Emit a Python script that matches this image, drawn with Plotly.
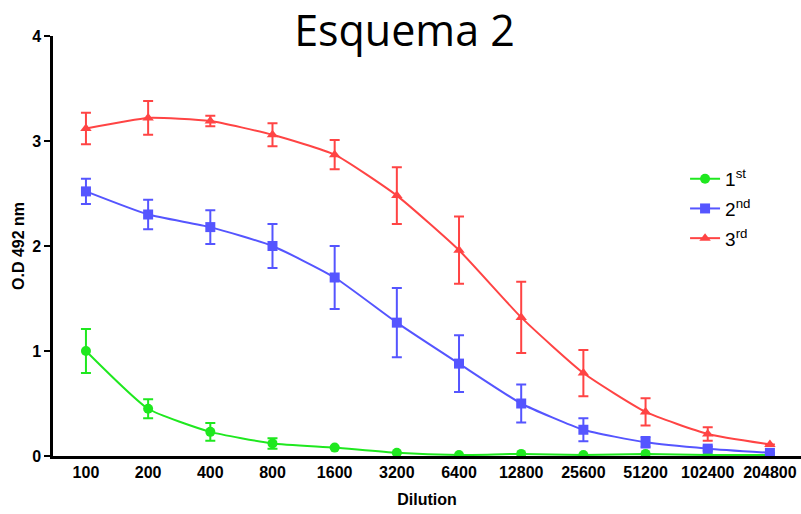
import plotly.graph_objects as go

dilutions = ["100", "200", "400", "800", "1600", "3200", "6400", "12800", "25600", "51200", "102400", "204800"]

first_vals = [1.00, 0.45, 0.23, 0.12, 0.08, 0.03, 0.01, 0.02, 0.01, 0.02, 0.01, 0.01]
first_err = [0.21, 0.09, 0.085, 0.05, 0.0, 0.0, 0.0, 0.0, 0.0, 0.0, 0.0, 0.0]

second_vals = [2.52, 2.30, 2.18, 2.00, 1.70, 1.27, 0.88, 0.50, 0.25, 0.13, 0.07, 0.03]
second_err = [0.12, 0.14, 0.16, 0.21, 0.30, 0.33, 0.27, 0.18, 0.11, 0.05, 0.02, 0.0]

third_vals = [3.12, 3.22, 3.19, 3.06, 2.87, 2.48, 1.96, 1.32, 0.79, 0.42, 0.21, 0.11]
third_err = [0.15, 0.16, 0.05, 0.11, 0.14, 0.27, 0.32, 0.34, 0.22, 0.13, 0.065, 0.0]

series_names = ["1<sup>st</sup>", "2<sup>nd</sup>", "3<sup>rd</sup>"]
colors = ["#1fe81f", "#5555ff", "#ff4444"]
symbols = ["circle", "square", "triangle-up"]

idx = list(range(len(dilutions)))

fig = go.Figure()
for i, (name, vals, errs, col, sym) in enumerate(zip(series_names,
                                       [first_vals, second_vals, third_vals],
                                       [first_err, second_err, third_err],
                                       colors, symbols)):
    fig.add_trace(go.Scatter(
        x=idx, y=vals, name=name, mode="lines+markers", legendgroup=f"g{i}",
        line=dict(color=col, width=2, shape="spline", smoothing=0.5),
        marker=dict(symbol=sym, size=10, color=col),
        error_y=dict(type="data", array=errs, visible=True, color=col,
                     thickness=2, width=5),
    ))

fig.update_layout(
    width=801, height=514,
    margin=dict(l=53, r=0, t=36, b=58),
    plot_bgcolor="white", paper_bgcolor="white",
    title=dict(text="Esquema 2", x=0.505, xanchor="center", y=0.94, yanchor="middle",
               font=dict(family="Open Sans", size=43, color="black")),
    font=dict(family="Arial", color="black"),
    legend=dict(x=0.845, y=0.705, xanchor="left", yanchor="top",
                font=dict(family="Arial", size=19, color="black"),
                bgcolor="rgba(0,0,0,0)", tracegroupgap=2),
    showlegend=True,
)

fig.update_xaxes(
    range=[-0.53, 11.5], tickmode="array", tickvals=idx, ticktext=dilutions,
    showgrid=False, zeroline=False, showline=True, linecolor="black", linewidth=2.5,
    ticks="", tickfont=dict(family="Arial", size=16, color="black", weight="bold"),
    title=dict(text="Dilution", font=dict(family="Arial", size=16, color="black", weight="bold"), standoff=14),
)
fig.update_yaxes(
    range=[0, 4], tickvals=[0, 1, 2, 3, 4], showgrid=False, zeroline=False,
    showline=True, linecolor="black", linewidth=2.5, ticks="outside", ticklen=6,
    tickwidth=2, tickcolor="black",
    tickfont=dict(family="Arial", size=16, color="black", weight="bold"),
    title=dict(text="O.D 492 nm", font=dict(family="Arial", size=16, color="black", weight="bold"), standoff=4),
)

fig.write_html("out.html", config={"displayModeBar": False},
               post_script="document.body.style.margin='0';document.body.style.overflow='hidden';")
